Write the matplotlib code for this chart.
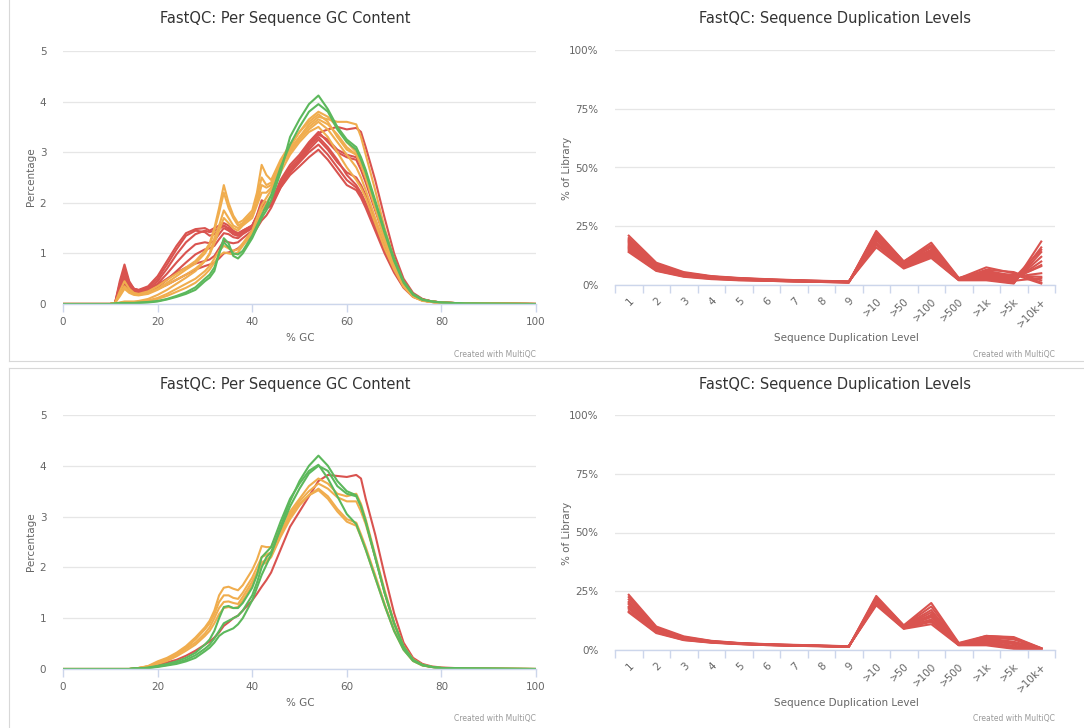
import matplotlib
matplotlib.use("Agg")
import matplotlib.pyplot as plt
from matplotlib.lines import Line2D

# ---------------- data ----------------
GC_X = [0, 10, 11, 12, 13, 14, 15, 16, 18, 20, 22, 24, 26, 28, 30, 31, 32, 33, 34, 35, 36, 37, 38,
        40, 41, 42, 43, 44, 46, 48, 50, 52, 54, 56, 58, 60, 62, 63, 64, 66, 68, 70, 72, 74, 76, 78, 80, 85, 100]

# top panel: per sequence GC content
top_red = [
    [0, 0, 0.02, 0.45, 0.78, 0.45, 0.3, 0.28, 0.35, 0.55, 0.85, 1.15, 1.4, 1.48, 1.5, 1.45, 1.5, 1.55, 1.6, 1.55, 1.45, 1.4, 1.45,
     1.55, 1.75, 2.05, 2.0, 2.0, 2.45, 2.75, 2.95, 3.2, 3.4, 3.2, 3.0, 2.9, 2.85, 2.65, 2.4, 1.85, 1.3, 0.8, 0.42, 0.18, 0.09, 0.05, 0.03, 0.01, 0],
    [0, 0, 0.02, 0.32, 0.55, 0.38, 0.28, 0.26, 0.3, 0.45, 0.7, 0.98, 1.22, 1.38, 1.45, 1.42, 1.45, 1.5, 1.55, 1.5, 1.42, 1.38, 1.45,
     1.55, 1.75, 2.0, 1.95, 2.0, 2.4, 2.65, 2.85, 3.1, 3.3, 3.1, 2.85, 2.55, 2.35, 2.2, 2.0, 1.55, 1.1, 0.68, 0.36, 0.16, 0.08, 0.05, 0.03, 0.01, 0],
    [0, 0, 0.02, 0.28, 0.5, 0.35, 0.26, 0.24, 0.28, 0.4, 0.6, 0.82, 1.02, 1.18, 1.22, 1.2, 1.25, 1.38, 1.5, 1.45, 1.38, 1.35, 1.4,
     1.5, 1.7, 1.92, 1.9, 1.95, 2.35, 2.6, 2.8, 3.0, 3.15, 2.95, 2.7, 2.45, 2.3, 2.15, 1.95, 1.5, 1.05, 0.65, 0.34, 0.15, 0.07, 0.04, 0.02, 0.01, 0],
    [0, 0, 0.02, 0.2, 0.35, 0.28, 0.22, 0.2, 0.24, 0.33, 0.48, 0.65, 0.82, 0.98, 1.08, 1.1, 1.15, 1.28, 1.4, 1.38, 1.32, 1.3, 1.38,
     1.5, 1.68, 1.88, 1.88, 1.95, 2.3, 2.55, 2.72, 2.9, 3.05, 2.85, 2.6, 2.35, 2.25, 2.1, 1.9, 1.45, 1.0, 0.62, 0.32, 0.14, 0.07, 0.04, 0.02, 0.01, 0],
    [0, 0, 0.02, 0.22, 0.4, 0.3, 0.24, 0.22, 0.25, 0.3, 0.38, 0.48, 0.58, 0.68, 0.75, 0.78, 0.82, 0.9, 1.0, 1.02, 1.05, 1.1, 1.18,
     1.35, 1.5, 1.65, 1.75, 1.9, 2.3, 2.6, 2.85, 3.15, 3.38, 3.45, 3.5, 3.45, 3.48, 3.4, 3.1, 2.45, 1.7, 1.0, 0.5, 0.22, 0.1, 0.05, 0.03, 0.01, 0],
    [0, 0, 0.02, 0.35, 0.62, 0.4, 0.3, 0.27, 0.3, 0.38, 0.5, 0.62, 0.72, 0.8, 0.85, 0.88, 0.95, 1.1, 1.25, 1.22, 1.2, 1.22, 1.3,
     1.45, 1.6, 1.85, 1.9, 2.0, 2.4, 2.7, 2.9, 3.15, 3.35, 3.25, 3.05, 2.95, 2.9, 2.75, 2.5, 1.95, 1.35, 0.82, 0.43, 0.19, 0.09, 0.05, 0.03, 0.01, 0],
    [0, 0, 0.02, 0.4, 0.7, 0.42, 0.3, 0.27, 0.33, 0.5, 0.78, 1.08, 1.35, 1.45, 1.42, 1.35, 1.38, 1.48, 1.55, 1.48, 1.38, 1.35, 1.42,
     1.55, 1.72, 1.98, 1.9, 1.95, 2.38, 2.62, 2.82, 3.05, 3.25, 3.05, 2.8, 2.6, 2.5, 2.35, 2.15, 1.65, 1.15, 0.7, 0.37, 0.16, 0.08, 0.05, 0.03, 0.01, 0],
]
top_orange = [
    [0, 0, 0.02, 0.25, 0.45, 0.3, 0.22, 0.2, 0.25, 0.35, 0.48, 0.6, 0.72, 0.85, 1.05, 1.2, 1.5, 1.9, 2.35, 2.0, 1.75, 1.6, 1.65,
     1.85, 2.2, 2.75, 2.55, 2.45, 2.85, 3.15, 3.4, 3.65, 3.8, 3.7, 3.5, 3.2, 3.0, 2.8, 2.55, 1.95, 1.35, 0.8, 0.4, 0.17, 0.08, 0.05, 0.03, 0.01, 0],
    [0, 0, 0.02, 0.2, 0.35, 0.25, 0.2, 0.18, 0.22, 0.3, 0.42, 0.55, 0.68, 0.8, 1.0, 1.15, 1.45, 1.8, 2.2, 1.9, 1.7, 1.55, 1.6,
     1.8, 2.1, 2.5, 2.35, 2.4, 2.75, 3.05, 3.3, 3.55, 3.7, 3.65, 3.6, 3.6, 3.55, 3.3, 2.95, 2.25, 1.5, 0.88, 0.43, 0.18, 0.08, 0.05, 0.03, 0.01, 0],
    [0, 0, 0.01, 0.03, 0.05, 0.05, 0.05, 0.06, 0.1, 0.18, 0.28, 0.4, 0.52, 0.65, 0.85, 1.0, 1.3, 1.55, 1.85, 1.7, 1.55, 1.5, 1.58,
     1.75, 2.0, 2.35, 2.3, 2.35, 2.8, 3.1, 3.4, 3.6, 3.75, 3.6, 3.3, 3.05, 2.95, 2.75, 2.5, 1.9, 1.3, 0.78, 0.38, 0.16, 0.07, 0.04, 0.02, 0.01, 0],
    [0, 0, 0.02, 0.15, 0.3, 0.22, 0.18, 0.17, 0.2, 0.28, 0.38, 0.48, 0.58, 0.7, 0.85, 0.98, 1.2, 1.45, 1.7, 1.6, 1.5, 1.45, 1.55,
     1.7, 1.95, 2.2, 2.2, 2.3, 2.7, 3.0, 3.25, 3.45, 3.6, 3.45, 3.2, 2.95, 2.7, 2.5, 2.25, 1.7, 1.2, 0.72, 0.36, 0.15, 0.07, 0.04, 0.02, 0.01, 0],
    [0, 0, 0.01, 0.02, 0.03, 0.03, 0.03, 0.04, 0.07, 0.12, 0.2, 0.3, 0.4, 0.5, 0.65, 0.75, 0.9, 1.05, 1.15, 1.1, 1.05, 1.08, 1.2,
     1.45, 1.7, 1.95, 2.1, 2.25, 2.7, 3.05, 3.3, 3.5, 3.65, 3.55, 3.35, 3.1, 2.95, 2.75, 2.5, 1.9, 1.3, 0.78, 0.38, 0.16, 0.07, 0.04, 0.02, 0.01, 0],
    [0, 0, 0.01, 0.02, 0.03, 0.03, 0.03, 0.04, 0.06, 0.1, 0.16, 0.24, 0.32, 0.42, 0.58, 0.68, 0.82, 0.95, 1.02, 1.0, 0.98, 1.02, 1.15,
     1.4, 1.6, 1.85, 2.0, 2.15, 2.6, 2.95, 3.2, 3.4, 3.5, 3.3, 3.0, 2.7, 2.45, 2.3, 2.1, 1.6, 1.1, 0.68, 0.34, 0.14, 0.06, 0.04, 0.02, 0.01, 0],
]
top_green = [
    [0, 0, 0.01, 0.02, 0.02, 0.02, 0.02, 0.02, 0.03, 0.05, 0.09, 0.14, 0.2, 0.28, 0.45, 0.52, 0.65, 1.0, 1.3, 1.2, 0.95, 0.9, 1.0,
     1.3, 1.5, 1.7, 1.85, 2.05, 2.6, 3.3, 3.65, 3.95, 4.12, 3.85, 3.5, 3.25, 3.1, 2.9, 2.65, 2.05, 1.45, 0.9, 0.45, 0.2, 0.09, 0.05, 0.03, 0.01, 0],
    [0, 0, 0.01, 0.02, 0.02, 0.02, 0.02, 0.03, 0.04, 0.06, 0.1, 0.16, 0.23, 0.33, 0.5, 0.58, 0.72, 1.0, 1.22, 1.12, 1.0, 0.98, 1.05,
     1.35, 1.55, 1.75, 1.95, 2.15, 2.7, 3.15, 3.5, 3.8, 3.95, 3.8, 3.45, 3.2, 3.05, 2.85, 2.6, 2.0, 1.4, 0.85, 0.42, 0.18, 0.08, 0.05, 0.03, 0.01, 0],
]

# bottom panel: per sequence GC content
bot_red = [
    [0, 0, 0, 0, 0, 0, 0.01, 0.01, 0.03, 0.08, 0.13, 0.18, 0.26, 0.36, 0.48, 0.54, 0.62, 0.72, 0.85, 0.92, 1.0, 1.05, 1.15,
     1.35, 1.48, 1.62, 1.75, 1.9, 2.35, 2.8, 3.1, 3.4, 3.7, 3.82, 3.8, 3.78, 3.82, 3.75, 3.35, 2.65, 1.85, 1.1, 0.52, 0.22, 0.1, 0.05, 0.03, 0.01, 0],
]
bot_orange = [
    [0, 0, 0, 0, 0, 0, 0.01, 0.02, 0.06, 0.15, 0.22, 0.32, 0.45, 0.62, 0.82, 0.95, 1.15, 1.45, 1.6, 1.62, 1.58, 1.55, 1.65,
     1.95, 2.15, 2.42, 2.4, 2.4, 2.8, 3.1, 3.35, 3.6, 3.75, 3.65, 3.45, 3.4, 3.45, 3.25, 2.95, 2.25, 1.55, 0.92, 0.45, 0.19, 0.08, 0.04, 0.02, 0.01, 0],
    [0, 0, 0, 0, 0, 0, 0.01, 0.02, 0.05, 0.12, 0.2, 0.3, 0.42, 0.58, 0.78, 0.9, 1.08, 1.32, 1.45, 1.45, 1.4, 1.38, 1.5,
     1.8, 2.0, 2.2, 2.25, 2.3, 2.7, 3.05, 3.3, 3.5, 3.65, 3.55, 3.38, 3.3, 3.3, 3.1, 2.85, 2.2, 1.5, 0.9, 0.44, 0.18, 0.08, 0.04, 0.02, 0.01, 0],
    [0, 0, 0, 0, 0, 0, 0.01, 0.02, 0.05, 0.12, 0.18, 0.28, 0.4, 0.52, 0.7, 0.82, 1.0, 1.2, 1.32, 1.33, 1.3, 1.28, 1.42,
     1.72, 1.9, 2.1, 2.15, 2.22, 2.65, 3.0, 3.25, 3.42, 3.52, 3.35, 3.1, 2.9, 2.82, 2.6, 2.35, 1.8, 1.25, 0.75, 0.38, 0.16, 0.07, 0.04, 0.02, 0.01, 0],
    [0, 0, 0, 0, 0, 0, 0.01, 0.02, 0.05, 0.1, 0.16, 0.25, 0.36, 0.48, 0.65, 0.75, 0.9, 1.08, 1.2, 1.22, 1.2, 1.22, 1.35,
     1.65, 1.85, 2.05, 2.1, 2.2, 2.6, 2.95, 3.22, 3.42, 3.55, 3.4, 3.15, 2.95, 2.88, 2.65, 2.4, 1.85, 1.28, 0.77, 0.39, 0.16, 0.07, 0.04, 0.02, 0.01, 0],
]
bot_green = [
    [0, 0, 0, 0, 0, 0, 0.01, 0.01, 0.02, 0.04, 0.07, 0.1, 0.15, 0.22, 0.35, 0.42, 0.52, 0.65, 0.72, 0.76, 0.8, 0.88, 1.0,
     1.35, 1.6, 1.85, 2.05, 2.25, 2.8, 3.3, 3.7, 4.0, 4.2, 4.0, 3.7, 3.5, 3.42, 3.2, 2.9, 2.2, 1.5, 0.9, 0.44, 0.18, 0.08, 0.04, 0.02, 0.01, 0],
    [0, 0, 0, 0, 0, 0, 0.01, 0.01, 0.03, 0.06, 0.1, 0.15, 0.22, 0.32, 0.48, 0.58, 0.75, 1.0, 1.22, 1.24, 1.2, 1.2, 1.3,
     1.6, 1.85, 2.2, 2.3, 2.4, 2.9, 3.35, 3.65, 3.9, 4.02, 3.75, 3.4, 3.05, 2.85, 2.6, 2.35, 1.8, 1.25, 0.75, 0.38, 0.16, 0.07, 0.04, 0.02, 0.01, 0],
    [0, 0, 0, 0, 0, 0, 0.01, 0.01, 0.02, 0.05, 0.08, 0.12, 0.18, 0.27, 0.4, 0.48, 0.6, 0.75, 0.9, 0.95, 1.0, 1.05, 1.15,
     1.45, 1.7, 2.0, 2.2, 2.3, 2.75, 3.2, 3.55, 3.85, 4.0, 3.9, 3.6, 3.45, 3.4, 3.2, 2.9, 2.2, 1.5, 0.9, 0.44, 0.18, 0.08, 0.04, 0.02, 0.01, 0],
]

# duplication levels
DUP_CATS = ['1', '2', '3', '4', '5', '6', '7', '8', '9', '>10', '>50', '>100', '>500', '>1k', '>5k', '>10k+']
top_dup = [
    [21.0, 9.5, 5.5, 3.8, 3.0, 2.5, 2.1, 1.8, 1.5, 16.0, 7.0, 11.5, 2.0, 2.0, 0.6, 18.5],
    [20.0, 9.0, 5.2, 3.6, 2.9, 2.4, 2.0, 1.7, 1.4, 17.0, 7.5, 12.0, 2.2, 2.5, 0.8, 16.0],
    [19.0, 8.5, 5.0, 3.5, 2.8, 2.3, 1.9, 1.6, 1.4, 18.0, 8.0, 12.5, 2.3, 3.0, 1.0, 14.0],
    [18.0, 8.0, 4.8, 3.3, 2.6, 2.2, 1.8, 1.6, 1.3, 19.0, 8.5, 13.0, 2.4, 3.5, 1.5, 12.0],
    [17.0, 7.5, 4.5, 3.2, 2.5, 2.1, 1.8, 1.5, 1.3, 20.0, 9.0, 14.0, 2.5, 4.0, 2.0, 10.0],
    [16.0, 7.0, 4.2, 3.0, 2.4, 2.0, 1.7, 1.5, 1.2, 21.0, 9.5, 15.0, 2.6, 4.5, 2.5, 8.5],
    [15.5, 6.8, 4.0, 2.9, 2.3, 1.9, 1.6, 1.4, 1.2, 22.0, 9.5, 16.0, 2.7, 5.0, 3.0, 8.0],
    [15.0, 6.5, 3.9, 2.8, 2.2, 1.9, 1.6, 1.4, 1.1, 22.5, 10.0, 17.0, 2.8, 5.5, 3.5, 5.0],
    [14.5, 6.2, 3.7, 2.7, 2.1, 1.8, 1.5, 1.3, 1.1, 23.0, 10.0, 18.0, 3.0, 6.0, 4.0, 3.5],
    [14.0, 6.0, 3.5, 2.5, 2.0, 1.8, 1.5, 1.3, 1.0, 20.5, 9.0, 16.5, 2.8, 7.5, 5.0, 2.0],
    [18.5, 8.2, 4.7, 3.3, 2.6, 2.2, 1.8, 1.6, 1.3, 19.5, 8.0, 13.5, 2.4, 6.5, 5.5, 1.0],
    [16.5, 7.2, 4.3, 3.1, 2.5, 2.1, 1.7, 1.5, 1.2, 21.5, 9.2, 14.5, 2.6, 4.0, 4.5, 0.6],
    [19.5, 8.8, 5.1, 3.6, 2.8, 2.3, 1.9, 1.7, 1.4, 17.5, 7.8, 12.0, 2.2, 3.0, 1.8, 3.0],
    [17.5, 7.8, 4.6, 3.2, 2.6, 2.1, 1.8, 1.5, 1.3, 20.0, 8.8, 13.0, 2.5, 5.0, 2.8, 15.0],
]
bot_dup = [
    [23.5, 10.0, 5.8, 3.9, 3.0, 2.5, 2.2, 1.9, 1.6, 19.0, 9.0, 11.0, 2.0, 2.0, 0.5, 0.3],
    [22.5, 9.6, 5.5, 3.8, 2.9, 2.4, 2.1, 1.8, 1.6, 19.5, 9.2, 12.0, 2.1, 2.5, 0.8, 0.4],
    [21.5, 9.2, 5.3, 3.7, 2.9, 2.4, 2.1, 1.8, 1.5, 20.0, 9.5, 13.0, 2.2, 3.0, 1.2, 0.4],
    [20.5, 8.8, 5.1, 3.6, 2.8, 2.3, 2.0, 1.8, 1.5, 20.5, 9.6, 14.0, 2.3, 3.5, 1.8, 0.5],
    [19.5, 8.5, 4.9, 3.5, 2.7, 2.3, 2.0, 1.7, 1.5, 21.0, 9.8, 15.0, 2.4, 4.0, 2.5, 0.5],
    [18.5, 8.2, 4.7, 3.4, 2.7, 2.2, 1.9, 1.7, 1.4, 21.5, 10.0, 16.0, 2.5, 4.5, 3.0, 0.6],
    [17.5, 7.8, 4.5, 3.3, 2.6, 2.2, 1.9, 1.7, 1.4, 22.0, 10.2, 17.0, 2.6, 5.0, 3.5, 0.6],
    [16.5, 7.5, 4.3, 3.2, 2.6, 2.1, 1.8, 1.6, 1.4, 22.5, 10.3, 18.5, 2.8, 5.5, 4.5, 0.7],
    [16.0, 7.2, 4.2, 3.1, 2.5, 2.1, 1.8, 1.6, 1.3, 23.0, 10.5, 20.0, 3.0, 6.0, 5.5, 0.8],
    [18.0, 8.0, 4.6, 3.3, 2.6, 2.2, 1.9, 1.7, 1.4, 21.0, 9.5, 14.5, 2.4, 6.0, 5.2, 0.7],
    [20.0, 8.7, 5.0, 3.5, 2.8, 2.3, 2.0, 1.7, 1.5, 20.0, 9.2, 12.5, 2.2, 5.5, 4.8, 0.6],
]

GC_TICKS = [0, 20, 40, 60, 80, 100]
GC_YTICKS = [0, 1, 2, 3, 4, 5]
DUP_YTICKS = [0, 25, 50, 75, 100]
DUP_YLABELS = ['0%', '25%', '50%', '75%', '100%']

# ---------------- style ----------------
RED = '#d9534f'
ORANGE = '#f0ad4e'
GREEN = '#5cb85c'
GRID = '#e6e6e6'
AXIS = '#ccd6eb'
LABEL = '#666666'
TITLE = '#333333'
FONT = 'DejaVu Sans'
plt.rcParams['font.family'] = FONT

W, H = 1084, 728
fig = plt.figure(figsize=(W / 100, H / 100), dpi=100)
fig.patch.set_facecolor('white')


def fx(px):
    return px / W


def fy(py):
    return 1 - py / H


def style_axes(ax):
    for s in ['top', 'right', 'left']:
        ax.spines[s].set_visible(False)
    ax.spines['bottom'].set_color(AXIS)
    ax.spines['bottom'].set_linewidth(1.0)
    ax.grid(axis='y', color=GRID, linewidth=0.9)
    ax.grid(axis='x', visible=False)
    ax.set_axisbelow(True)
    ax.tick_params(axis='y', length=0, colors=LABEL, labelsize=7.5, pad=12)
    ax.tick_params(axis='x', colors=LABEL, labelsize=7.5, length=6, width=1.0, color=AXIS)
    ax.set_facecolor('white')


def gc_panel(ax, reds, oranges, greens):
    for ys in reds:
        ax.plot(GC_X, ys, color=RED, lw=1.5, solid_joinstyle='round')
    for ys in oranges:
        ax.plot(GC_X, ys, color=ORANGE, lw=1.5, solid_joinstyle='round')
    for ys in greens:
        ax.plot(GC_X, ys, color=GREEN, lw=1.5, solid_joinstyle='round')
    ax.set_xlim(0, 100)
    ax.set_ylim(0, 5)
    ax.set_xticks(GC_TICKS)
    ax.set_yticks(GC_YTICKS)
    style_axes(ax)


def dup_panel(ax, lines):
    xs = list(range(len(DUP_CATS)))
    for ys in lines:
        ax.plot(xs, ys, color=RED, lw=1.5, solid_joinstyle='round')
    ax.set_xlim(-0.5, len(DUP_CATS) - 0.5)
    ax.set_ylim(0, 100)
    ax.set_yticks(DUP_YTICKS)
    ax.set_yticklabels(DUP_YLABELS)
    style_axes(ax)
    ax.set_xticks([i - 0.5 for i in range(len(DUP_CATS) + 1)])
    ax.set_xticklabels([])
    ax.set_xticks(xs, minor=True)
    ax.set_xticklabels(DUP_CATS, minor=True, rotation=45, ha='right', va='top',
                       rotation_mode='anchor', color=LABEL, fontsize=7.5)
    ax.tick_params(axis='x', which='minor', length=0, pad=8)


# axes rectangles (pixels)
ax_tl = fig.add_axes([fx(63), fy(304), fx(536 - 63), (304 - 51) / H])
ax_tr = fig.add_axes([fx(615), fy(285), fx(1055 - 615), (285 - 50) / H])
ax_bl = fig.add_axes([fx(63), fy(669), fx(536 - 63), (669 - 415) / H])
ax_br = fig.add_axes([fx(615), fy(650), fx(1055 - 615), (650 - 415) / H])

gc_panel(ax_tl, top_red, top_orange, top_green)
gc_panel(ax_bl, bot_red, bot_orange, bot_green)
dup_panel(ax_tr, top_dup)
dup_panel(ax_br, bot_dup)

# titles and labels
for off in (0, 365):
    fig.text(fx(285), fy(19 + off), 'FastQC: Per Sequence GC Content', ha='center', va='center',
             fontsize=10.5, color=TITLE)
    fig.text(fx(835), fy(19 + off), 'FastQC: Sequence Duplication Levels', ha='center', va='center',
             fontsize=10.5, color=TITLE)
    fig.text(fx(300), fy(338 + off), '% GC', ha='center', va='center', fontsize=7.5, color=LABEL)
    fig.text(fx(846), fy(338 + off), 'Sequence Duplication Level', ha='center', va='center',
             fontsize=7.5, color=LABEL)
    fig.text(fx(536), fy(354 + off), 'Created with MultiQC', ha='right', va='center',
             fontsize=5.5, color='#999999')
    fig.text(fx(1055), fy(354 + off), 'Created with MultiQC', ha='right', va='center',
             fontsize=5.5, color='#999999')

fig.text(fx(31), fy(177), 'Percentage', rotation=90, ha='center', va='center', fontsize=7.5, color=LABEL)
fig.text(fx(31), fy(542), 'Percentage', rotation=90, ha='center', va='center', fontsize=7.5, color=LABEL)
fig.text(fx(567), fy(168), '% of Library', rotation=90, ha='center', va='center', fontsize=7.5, color=LABEL)
fig.text(fx(567), fy(533), '% of Library', rotation=90, ha='center', va='center', fontsize=7.5, color=LABEL)

# panel borders
BORDER = '#d8d8d8'
fig.add_artist(Line2D([fx(9), fx(9)], [fy(0), fy(361)], color=BORDER, lw=0.8))
fig.add_artist(Line2D([fx(9), fx(1084)], [fy(361), fy(361)], color=BORDER, lw=0.8))
fig.add_artist(Line2D([fx(9), fx(1084)], [fy(368), fy(368)], color=BORDER, lw=0.8))
fig.add_artist(Line2D([fx(9), fx(9)], [fy(368), fy(728)], color=BORDER, lw=0.8))

fig.savefig('out.png', dpi=100, facecolor='white')
